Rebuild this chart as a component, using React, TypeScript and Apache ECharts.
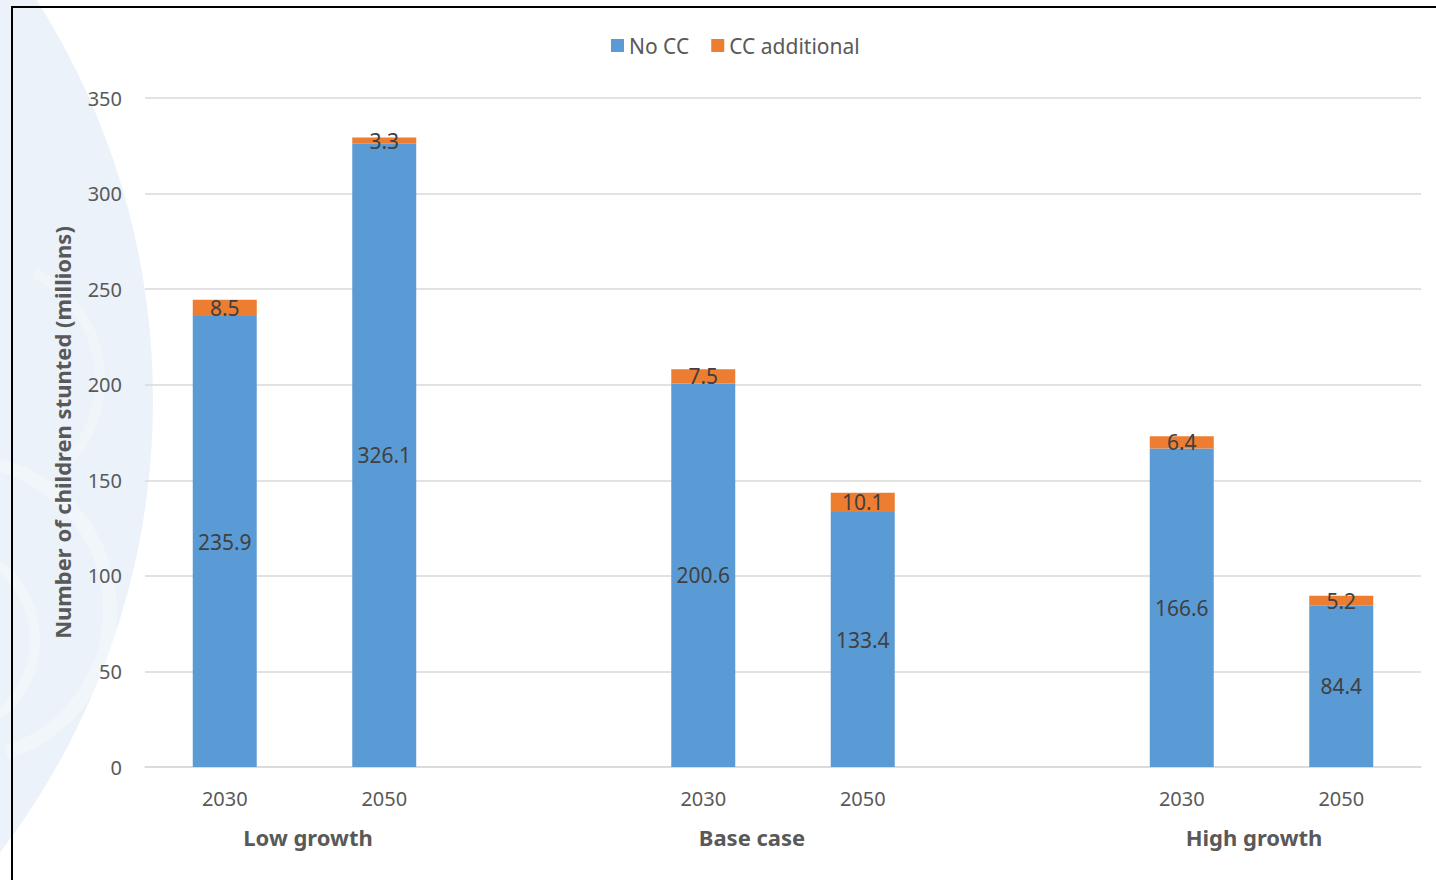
import React, { useEffect, useRef } from "react";
import * as echarts from "echarts";

const categories = ["2030", "2050", "", "2030", "2050", "", "2030", "2050"];
const noCC: (number | string)[] = [235.9, 326.1, "-", 200.6, 133.4, "-", 166.6, 84.4];
const ccAdditional: (number | string)[] = [8.5, 3.3, "-", 7.5, 10.1, "-", 6.4, 5.2];
const groupLabels = ["Low growth", "Base case", "High growth"];
const groupLabelX = [308, 752, 1254];
const yTicks = { min: 0, max: 350, interval: 50 };

const FONT = "'Noto Sans', 'DejaVu Sans', sans-serif";
const AXIS_COLOR = "#595959";
const LABEL_COLOR = "#404040";

export default function App() {
  const ref = useRef<HTMLDivElement>(null);
  useEffect(() => {
    document.body.style.margin = "0";
    const chart = echarts.init(ref.current!, undefined, { renderer: "svg" });
    const watermark: any[] = [
      {
        type: "circle",
        z: -10,
        shape: { cx: -593, cy: 400, r: 746 },
        style: { fill: "#e3ecf6", opacity: 0.7 },
        silent: true,
      },
      {
        type: "arc",
        z: -9,
        shape: { cx: -40, cy: 610, r: 150, startAngle: -Math.PI * 0.45, endAngle: Math.PI * 0.4 },
        style: { stroke: "#ffffff", lineWidth: 14, fill: "none", opacity: 0.3 },
        silent: true,
      },
      {
        type: "arc",
        z: -9,
        shape: { cx: -60, cy: 640, r: 95, startAngle: -Math.PI * 0.5, endAngle: Math.PI * 0.45 },
        style: { stroke: "#ffffff", lineWidth: 10, fill: "none", opacity: 0.3 },
        silent: true,
      },
      {
        type: "arc",
        z: -9,
        shape: { cx: -20, cy: 380, r: 120, startAngle: -Math.PI * 0.35, endAngle: Math.PI * 0.25 },
        style: { stroke: "#ffffff", lineWidth: 10, fill: "none", opacity: 0.25 },
        silent: true,
      },
    ];
    const groupTexts = groupLabels.map((t, i) => ({
      type: "text",
      x: groupLabelX[i],
      y: 837,
      style: {
        text: t,
        fill: AXIS_COLOR,
        font: `bold 22px ${FONT}`,
        textAlign: "center",
        textVerticalAlign: "middle",
      },
      silent: true,
    }));
    chart.setOption({
      animation: false,
      textStyle: { fontFamily: FONT },
      legend: {
        top: 30,
        left: 606,
        itemWidth: 13,
        itemHeight: 13,
        itemGap: 22,
        icon: "rect",
        textStyle: { color: AXIS_COLOR, fontSize: 21, fontFamily: FONT },
        data: ["No CC", "CC additional"],
      },
      grid: { left: 145, right: 15, top: 98, bottom: 113, containLabel: false },
      xAxis: {
        type: "category",
        data: categories,
        axisLine: { lineStyle: { color: "#d9d9d9", width: 1.5 } },
        axisTick: { show: false },
        axisLabel: { color: AXIS_COLOR, fontSize: 20, margin: 21, fontFamily: FONT },
      },
      yAxis: {
        type: "value",
        min: yTicks.min,
        max: yTicks.max,
        interval: yTicks.interval,
        name: "Number of children stunted (millions)",
        nameLocation: "middle",
        nameGap: 72,
        nameTextStyle: { color: AXIS_COLOR, fontSize: 22, fontWeight: "bold", fontFamily: FONT },
        axisLine: { show: false },
        axisTick: { show: false },
        axisLabel: { color: AXIS_COLOR, fontSize: 20, margin: 23, fontFamily: FONT },
        splitLine: { lineStyle: { color: "#d9d9d9", width: 1.5 } },
      },
      series: [
        {
          name: "No CC",
          type: "bar",
          stack: "total",
          barWidth: 64,
          data: noCC,
          itemStyle: { color: "#5b9bd5" },
          label: {
            show: true,
            position: "inside",
            color: LABEL_COLOR,
            fontSize: 21,
            fontFamily: FONT,
          },
        },
        {
          name: "CC additional",
          type: "bar",
          stack: "total",
          barWidth: 64,
          data: ccAdditional,
          itemStyle: { color: "#ed7d31" },
          label: {
            show: true,
            position: "inside",
            color: LABEL_COLOR,
            fontSize: 21,
            fontFamily: FONT,
          },
        },
      ],
      graphic: [
        ...watermark,
        ...groupTexts,
        {
          type: "rect",
          z: 100,
          shape: { x: 12, y: 7, width: 1600, height: 1000 },
          style: { stroke: "#000000", lineWidth: 2, fill: "none" },
          silent: true,
        },
      ],
    });
    return () => chart.dispose();
  }, []);
  return (
    <div
      ref={ref}
      style={{ position: "absolute", left: 0, top: 0, width: 1436, height: 880, background: "#ffffff" }}
    />
  );
}
